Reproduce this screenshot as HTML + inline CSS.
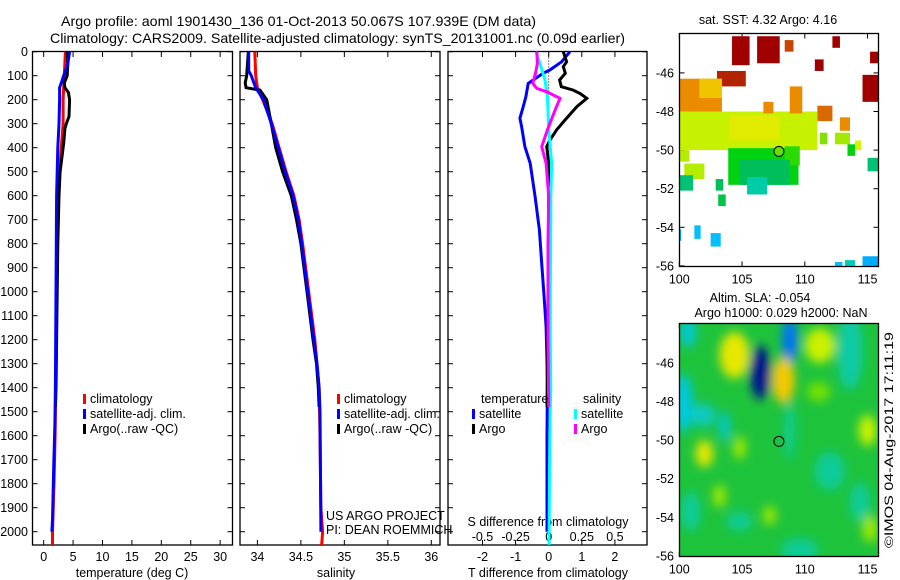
<!DOCTYPE html>
<html><head><meta charset="utf-8"><style>
html,body{margin:0;padding:0;background:#fff;}
svg{display:block;font-family:"Liberation Sans",sans-serif;}
</style></head><body>
<svg id="fig" width="900" height="580" viewBox="0 0 900 580" xmlns="http://www.w3.org/2000/svg">
<defs>
<clipPath id="c1"><rect x="32.5" y="51.5" width="200" height="494"/></clipPath>
<clipPath id="c2"><rect x="240" y="51.5" width="200" height="494"/></clipPath>
<clipPath id="c3"><rect x="448" y="51.5" width="199" height="494"/></clipPath>
<clipPath id="cm1"><rect x="679.5" y="33.5" width="199" height="233"/></clipPath>
<clipPath id="cm2"><rect x="679.5" y="323.5" width="199" height="233"/></clipPath>
<filter id="blur" x="-20%" y="-20%" width="140%" height="140%"><feGaussianBlur stdDeviation="5"/></filter>
</defs>
<text x="61" y="26" font-size="14" textLength="475" lengthAdjust="spacingAndGlyphs">Argo profile: aoml 1901430_136 01-Oct-2013 50.067S 107.939E (DM data)</text>
<text x="50" y="43" font-size="14" textLength="575" lengthAdjust="spacingAndGlyphs">Climatology: CARS2009. Satellite-adjusted climatology: synTS_20131001.nc (0.09d earlier)</text>
<g id="g1"></g>
<g id="g2"></g>
<g id="g3"></g>
<g id="m1"></g>
<g id="m2"></g>
<text x="0" y="0" font-size="12" transform="translate(893,548) rotate(-90)" textLength="216" lengthAdjust="spacingAndGlyphs">©IMOS 04-Aug-2017 17:11:19</text>
</svg>
<script>
// ---- data ----
const depthTicks = [0,100,200,300,400,500,600,700,800,900,1000,1100,1200,1300,1400,1500,1600,1700,1800,1900,2000];
const tempTicks = [0,5,10,15,20,25,30];
const salTicks = [34,34.5,35,35.5,36];
const salTickLabels = ["34","34.5","35","35.5","36"];
const tdiffTicks = [-2,-1,0,1,2];
const sdiffTickLabels = ["-0.5","-0.25","0","0.25","0.5"];
const sdiffTicks = [-0.5,-0.25,0,0.25,0.5];

const climTDepth = [0,100,200,300,400,500,600,800,1000,1200,1400,1600,1800,2000,2055];
const climT = [3.7,3.5,3.3,3.3,3.0,2.7,2.4,2.3,2.2,2.15,2.05,1.95,1.75,1.5,1.5];
const argoTDepth = [0,50,100,130,150,170,200,270,300,320,380,440,500,600,800,1000,1200,1400,1480];
const argoT = [4.0,4.1,4.0,3.5,3.6,4.2,4.4,4.3,3.85,3.6,3.4,3.1,2.8,2.6,2.4,2.3,2.2,2.1,2.0];
const satTDepth = [0,50,100,150,200,300,400,500,600,800,1000,1200,1400,1550,1730,1950,2000];
const satT = [4.4,4.1,3.4,2.7,2.7,2.6,2.4,2.3,2.2,2.15,2.1,2.05,2.0,1.9,1.7,1.5,1.4];

const climSDepth = [0,100,150,200,300,400,500,600,700,800,1000,1200,1400,1600,1900,2000,2055];
const climS = [33.97,33.98,34.0,34.06,34.17,34.25,34.33,34.42,34.48,34.52,34.59,34.66,34.71,34.72,34.73,34.75,34.74];
const argoSDepth = [0,100,130,150,160,200,300,400,500,600,700,800,1000,1200,1300,1400,1480];
const argoS = [33.895,33.877,33.86,33.87,34.03,34.107,34.16,34.21,34.29,34.39,34.45,34.5,34.57,34.64,34.68,34.70,34.71];
const satSDepth = [0,80,100,150,200,300,400,500,600,700,800,1000,1200,1300,1400,1500,2000];
const satS = [33.9,33.9,33.93,33.98,34.07,34.16,34.24,34.32,34.41,34.47,34.51,34.58,34.65,34.685,34.71,34.72,34.73];

const dTsatDepth = [0,42,76,90,132,187,229,277,312,396,465,604,743,882,1021,1146,1300,1400,1600,2000];
const dTsat = [0.64,0.39,0.04,-0.17,-0.62,-0.69,-0.77,-0.87,-0.82,-0.72,-0.56,-0.41,-0.28,-0.21,-0.14,-0.08,-0.05,-0.04,-0.05,-0.05];
const dTargoDepth = [0,42,62,90,118,146,160,174,194,229,285,326,368,396,465,604,800,1000,1200,1480];
const dTargo = [0.44,0.54,0.44,0.5,0.33,0.38,0.74,0.95,1.15,0.85,0.49,0.24,0.04,-0.06,0,0,0,-0.02,-0.03,-0.05];
const dSsatDepth = [0,49,118,187,326,465,604,800,1000,1200,1400,1600,2000,2055];
const dSsat = [-0.096,-0.066,-0.028,-0.01,0,0.023,0.016,0.014,0.012,0.012,0.015,0.008,0.003,0.003];
const dSargoDepth = [0,49,90,132,153,167,194,243,326,396,465,604,800,1000,1200,1480];
const dSargo = [-0.09,-0.085,-0.1,-0.12,-0.09,-0.015,0.085,0.048,-0.01,-0.053,-0.02,0,-0.005,-0.005,-0.005,0];

const lonTicks = [100,105,110,115];
const latTicks = [-46,-48,-50,-52,-54,-56];
// SST cells: lon0, lat0, lon1, lat1, value
const sstCells = [
[104.2,-44.1,105.6,-45.6,7],[106.2,-44.1,108.0,-45.5,7],[103.0,-45.9,105.3,-46.7,6.8],
[110.8,-45.3,111.5,-45.9,7],[112.2,-44.1,112.8,-44.7,7],[114.6,-46.1,115.9,-47.5,7],
[115.2,-44.9,115.9,-45.5,7],[108.4,-44.3,109.1,-44.9,6.6],[100,-46.3,103.4,-48.0,6],
[101.6,-46.3,103.4,-47.3,5.5],[100,-48.0,111,-50.0,4.7],[104,-48.2,108,-49.5,5],
[106.7,-47.5,107.5,-48.1,6],[108.8,-46.7,109.8,-48.1,6],[111,-47.7,112.2,-48.5,6.3],
[112.8,-48.3,113.6,-49.0,6],[111.2,-49.1,111.8,-49.7,4.3],[112.4,-49.1,113.6,-49.7,4.5],
[114,-49.5,114.5,-50.0,4.8],[113.4,-49.7,114,-50.3,3.6],[103.9,-49.9,109.5,-51.8,3.6],
[108.4,-49.8,109.6,-50.8,3.9],[104.8,-50.5,108.8,-51.8,3.2],[105.4,-51.4,107,-52.3,2.6],
[100.4,-50.7,102,-51.5,4.6],[100,-51.3,101.1,-52.1,3],[102.9,-51.5,103.5,-52.1,3.2],
[103.1,-52.3,103.7,-52.9,3.3],[101.2,-53.9,101.7,-54.6,1.3],[102.5,-54.3,103.3,-55.0,1.2],
[100,-54.1,100.15,-54.7,1],[113.2,-55.7,114,-56,2.4],[112.4,-55.8,113,-56,1.3],
[114.6,-55.5,115.9,-56,1.0],[115,-50.4,115.9,-51.1,3.0],[100,-50,100.8,-50.6,4.6]
];
// SLA blobs: lon, lat, rx(deg), ry(deg), value
const slaBlobs = [
[100.3,-48.1,0.8,1.5,-0.1],[101.9,-48.7,1,0.6,-0.08],[103.6,-49.3,0.4,0.8,-0.1],[100.7,-44.4,0.6,0.8,-0.1],
[113.6,-45.4,1,2,-0.06],[108.8,-49.5,0.4,1.5,-0.05],[104.8,-54.2,1,0.5,-0.05],[112,-51.6,1.2,1,-0.05],
[114.4,-53.2,0.8,1,-0.05],[100.9,-53.7,0.8,1,-0.05],[109.6,-55.7,1.5,0.6,-0.05],
[106.45,-46.5,0.8,1.4,-0.3],[108.8,-44.8,0.6,1.2,-0.2],[104.4,-45.6,1.2,1.2,0.15],[108.3,-46.9,0.9,1.2,0.2],
[111.2,-45.1,1.2,0.9,0.12],[115,-49.5,0.7,0.8,0.12],[102,-50.7,0.7,0.7,0.15],[104.8,-50.4,0.5,0.6,0.1],
[103.2,-52.9,0.5,0.6,0.1],[107.2,-53.9,0.5,0.5,0.1],[115.2,-54.6,0.6,0.7,0.1],[111.1,-47.5,0.9,0.5,0.08]
];
const argoLon = 107.939, argoLat = -50.067;

// ---- helpers ----
const NS="http://www.w3.org/2000/svg";
function mk(parent,tag,attrs,text){const e=document.createElementNS(NS,tag);for(const k in attrs)e.setAttribute(k,attrs[k]);if(text!==undefined)e.textContent=text;parent.appendChild(e);return e;}
const yD = d => 51.7 + d*0.24;
const PB = 545;
const xT = t => 32.5 + (t+1.9)*200/34;
const xS = s => 240 + (s-33.8)*200/2.3;
const xDT = t => 548.7 + t*33.1;
const xDS = s => 548.7 + s*132.4;

function frame(g,x0,x1,name){
  const r=mk(g,'rect',{x:x0,y:51.5,width:x1-x0,height:PB-51.5,fill:'none',stroke:'#000','stroke-width':1.3});
  
  
  depthTicks.forEach(d=>{
    mk(g,'line',{x1:x0,x2:x0+5,y1:yD(d),y2:yD(d),stroke:'#000'});
    mk(g,'line',{x1:x1,x2:x1-5,y1:yD(d),y2:yD(d),stroke:'#000'});
  });
}
function xticks(g,pos,labels,name,ly){
  pos.forEach((p,i)=>{
    mk(g,'line',{x1:p,x2:p,y1:51.5,y2:57,stroke:'#000'});
    mk(g,'line',{x1:p,x2:p,y1:PB,y2:PB-5,stroke:'#000'});
    const t=mk(g,'text',{x:p,y:ly||561,'font-size':12.5,'text-anchor':'middle'},labels[i]);
    
    
  });
}
function line(g,xs,ds,fx,color,name,clip,w){
  const pts=xs.map((v,i)=>fx(v).toFixed(1)+','+yD(ds[i]).toFixed(1)).join(' ');
  const p=mk(g,'polyline',{points:pts,fill:'none',stroke:color,'stroke-width':w||3,'clip-path':'url(#'+clip+')','stroke-linejoin':'miter'});
  
  
}
function legend(g,x,y,color,label,name){
  mk(g,'rect',{x:x,y:y-9,width:3,height:10,fill:color});
  const t=mk(g,'text',{x:x+7,y:y,'font-size':12.5},label);
  
  
}

// ---- panel 1 ----
const g1=document.getElementById('g1');
frame(g1,32.5,232.5,'temperature-panel');
depthTicks.forEach(d=>{
  const t=mk(g1,'text',{x:28,y:yD(d)+4.5,'font-size':12.5,'text-anchor':'end'},String(d));
  
  
});
xticks(g1,tempTicks.map(xT),tempTicks.map(String),'temperature');
let t1=mk(g1,'text',{x:132,y:577,'font-size':12.5,'text-anchor':'middle'},'temperature (deg C)');


line(g1,climT,climTDepth,xT,'#ff0000','temperature-climatology-line','c1');
line(g1,argoT,argoTDepth,xT,'#000000','temperature-argo-line','c1');
line(g1,satT,satTDepth,xT,'#0000ff','temperature-satellite-line','c1');
legend(g1,83,403,'#ff0000','climatology','legend-climatology');
legend(g1,83,418,'#0000ff','satellite-adj. clim.','legend-satellite-adj');
legend(g1,83,433,'#000000','Argo(..raw -QC)','legend-argo');

// ---- panel 2 ----
const g2=document.getElementById('g2');
frame(g2,240,440,'salinity-panel');
xticks(g2,salTicks.map(xS),salTickLabels,'salinity');
let t2=mk(g2,'text',{x:336,y:577,'font-size':12.5,'text-anchor':'middle'},'salinity');


line(g2,climS,climSDepth,xS,'#ff0000','salinity-climatology-line','c2');
line(g2,argoS,argoSDepth,xS,'#000000','salinity-argo-line','c2');
line(g2,satS,satSDepth,xS,'#0000ff','salinity-satellite-line','c2');
legend(g2,337,403,'#ff0000','climatology','legend-climatology-sal');
legend(g2,337,418,'#0000ff','satellite-adj. clim.','legend-satellite-adj-sal');
legend(g2,337,433,'#000000','Argo(..raw -QC)','legend-argo-sal');
let u1=mk(g2,'text',{x:326,y:520,'font-size':12.5},'US ARGO PROJECT');


let u2=mk(g2,'text',{x:326,y:534,'font-size':12.5},'PI: DEAN ROEMMICH');



// ---- panel 3 ----
const g3=document.getElementById('g3');
frame(g3,448,647,'difference-panel');
xticks(g3,tdiffTicks.map(xDT),tdiffTicks.map(String),'t-difference');
sdiffTicks.forEach((s,i)=>{
  const t=mk(g3,'text',{x:xDS(s),y:541,'font-size':12.5,'text-anchor':'middle'},sdiffTickLabels[i]);
  
  
});
let t3=mk(g3,'text',{x:548,y:526,'font-size':12.5,'text-anchor':'middle'},'S difference from climatology');


let t4=mk(g3,'text',{x:548,y:577,'font-size':12.5,'text-anchor':'middle'},'T difference from climatology');


mk(g3,'line',{x1:xDT(0),x2:xDT(0),y1:51.5,y2:PB,stroke:'#000','stroke-dasharray':'1,2','stroke-width':1});
line(g3,dTsat,dTsatDepth,xDT,'#0000ff','t-diff-satellite-line','c3');
line(g3,dTargo,dTargoDepth,xDT,'#000000','t-diff-argo-line','c3');
line(g3,dSsat,dSsatDepth,xDS,'#00ffff','s-diff-satellite-line','c3');
line(g3,dSargo,dSargoDepth,xDS,'#ff00ff','s-diff-argo-line','c3');
let lt=mk(g3,'text',{x:481,y:403,'font-size':12.5},'temperature');


let ls=mk(g3,'text',{x:583,y:403,'font-size':12.5},'salinity');


legend(g3,472,418,'#0000ff','satellite','legend-t-satellite');
legend(g3,472,433,'#000000','Argo','legend-t-argo');
legend(g3,574,418,'#00ffff','satellite','legend-s-satellite');
legend(g3,574,433,'#ff00ff','Argo','legend-s-argo');

// ---- maps ----
const mx = lon => 679.3 + (lon-100)*12.55;
function mapFrame(g,top,name,titleLines){
  const my = lat => top + 39.4 + (-46-lat)*19.3;
  const r=mk(g,'rect',{x:679.5,y:top,width:199,height:233,fill:'none',stroke:'#000','stroke-width':1.3});
  
  
  lonTicks.forEach(l=>{
    mk(g,'line',{x1:mx(l),x2:mx(l),y1:top,y2:top+5,stroke:'#000'});
    mk(g,'line',{x1:mx(l),x2:mx(l),y1:top+233,y2:top+228,stroke:'#000'});
    const t=mk(g,'text',{x:mx(l),y:top+250,'font-size':12.5,'text-anchor':'middle'},String(l));
    
    
  });
  latTicks.forEach(l=>{
    mk(g,'line',{x1:679.5,x2:684.5,y1:my(l),y2:my(l),stroke:'#000'});
    mk(g,'line',{x1:878.5,x2:873.5,y1:my(l),y2:my(l),stroke:'#000'});
    const t=mk(g,'text',{x:674,y:my(l)+4.5,'font-size':12.5,'text-anchor':'end'},String(l));
    
    
  });
  titleLines.forEach(tl=>{
    const t=mk(g,'text',{x:tl[0],y:tl[1],'font-size':12.5,'text-anchor':'middle'},tl[2]);
    
    
  });
  return my;
}
function rgb(c){return 'rgb('+c.map(Math.round).join(',')+')';}
function lerpColor(stops,v){
  if(v<=stops[0][0])return rgb(stops[0][1]);
  for(let i=1;i<stops.length;i++){
    if(v<=stops[i][0]){
      const a=stops[i-1],b=stops[i],f=(v-a[0])/(b[0]-a[0]);
      return rgb(a[1].map((c,k)=>c+(b[1][k]-c)*f));
    }
  }
  return rgb(stops[stops.length-1][1]);
}
const sstStops=[[0,[0,80,255]],[1.2,[0,190,255]],[2.5,[0,205,180]],[3.2,[0,190,90]],[3.7,[0,215,0]],[4.3,[130,225,0]],[4.8,[215,245,0]],[5.3,[240,220,0]],[6,[235,140,0]],[6.6,[200,70,0]],[7,[160,0,0]]];
const slaStops=[[-0.3,[0,20,140]],[-0.2,[0,110,255]],[-0.1,[0,200,220]],[-0.04,[20,205,140]],[0,[30,195,60]],[0.08,[120,225,0]],[0.13,[225,245,0]],[0.2,[245,200,0]]];

const m1=document.getElementById('m1');
const my1=mapFrame(m1,33.5,'sst-map',[[768,24,'sat. SST: 4.32 Argo: 4.16']]);
const cg1=mk(m1,'g',{'clip-path':'url(#cm1)'});
sstCells.forEach(c=>{
  const x0=mx(c[0]),x1=mx(c[2]),y0=my1(c[1]),y1=my1(c[3]);
  const r=mk(cg1,'rect',{x:Math.min(x0,x1),y:Math.min(y0,y1),width:Math.abs(x1-x0),height:Math.abs(y1-y0),fill:lerpColor(sstStops,c[4])});
  
  
});
m1.appendChild(m1.firstChild);
let a1=mk(m1,'circle',{cx:mx(argoLon),cy:my1(argoLat),r:5,fill:lerpColor(sstStops,4.16),stroke:'#000','stroke-width':1});



const m2=document.getElementById('m2');
const my2=mapFrame(m2,323.5,'sla-map',[[760,302,'Altim. SLA: -0.054'],[781,317,'Argo h1000: 0.029 h2000: NaN']]);
const cg2=mk(m2,'g',{'clip-path':'url(#cm2)'});
mk(cg2,'rect',{x:679.5,y:323.5,width:199,height:233,fill:lerpColor(slaStops,0)});
const bg2=mk(cg2,'g',{filter:'url(#blur)'});
slaBlobs.forEach(b=>{
  const e=mk(bg2,'ellipse',{cx:mx(b[0]),cy:my2(b[1]),rx:b[2]*12.55,ry:b[3]*19.3,fill:lerpColor(slaStops,b[4])});
  
  
});
m2.appendChild(m2.firstChild);
let a2=mk(m2,'circle',{cx:mx(argoLon),cy:my2(argoLat),r:5,fill:'none',stroke:'#000','stroke-width':1});


</script>
</body></html>
